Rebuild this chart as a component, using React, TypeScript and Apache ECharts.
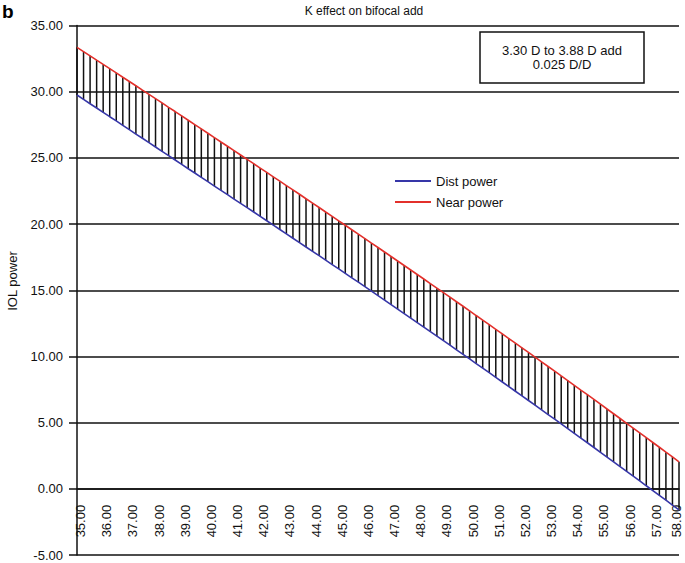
import React, { useEffect, useRef } from "react";
import * as echarts from "echarts";

const kValues = [
  35, 35.25, 35.5, 35.75, 36, 36.25, 36.5, 36.75, 37, 37.25, 37.5, 37.75,
  38, 38.25, 38.5, 38.75, 39, 39.25, 39.5, 39.75, 40, 40.25, 40.5, 40.75,
  41, 41.25, 41.5, 41.75, 42, 42.25, 42.5, 42.75, 43, 43.25, 43.5, 43.75,
  44, 44.25, 44.5, 44.75, 45, 45.25, 45.5, 45.75, 46, 46.25, 46.5, 46.75,
  47, 47.25, 47.5, 47.75, 48, 48.25, 48.5, 48.75, 49, 49.25, 49.5, 49.75,
  50, 50.25, 50.5, 50.75, 51, 51.25, 51.5, 51.75, 52, 52.25, 52.5, 52.75,
  53, 53.25, 53.5, 53.75, 54, 54.25, 54.5, 54.75, 55, 55.25, 55.5, 55.75,
  56, 56.25, 56.5, 56.75, 57, 57.25, 57.5, 57.75, 58,
];

const distPower = [
  29.75, 29.42, 29.09, 28.77, 28.44, 28.11, 27.79, 27.46, 27.13, 26.8, 26.48, 26.15,
  25.82, 25.49, 25.17, 24.84, 24.51, 24.18, 23.86, 23.53, 23.2, 22.87, 22.55, 22.22,
  21.89, 21.56, 21.24, 20.91, 20.58, 20.25, 19.92, 19.59, 19.26, 18.93, 18.6, 18.27,
  17.94, 17.61, 17.28, 16.94, 16.61, 16.28, 15.94, 15.61, 15.27, 14.93, 14.6, 14.26,
  13.92, 13.58, 13.24, 12.9, 12.56, 12.22, 11.87, 11.53, 11.19, 10.85, 10.5, 10.16,
  9.81, 9.46, 9.12, 8.77, 8.42, 8.07, 7.72, 7.37, 7.02, 6.67, 6.32, 5.96,
  5.61, 5.26, 4.9, 4.55, 4.19, 3.83, 3.48, 3.12, 2.76, 2.4, 2.04, 1.68,
  1.32, 0.96, 0.6, 0.23, -0.13, -0.5, -0.86, -1.23, -1.59,
];

const nearPower = [
  33.35, 33.03, 32.71, 32.38, 32.06, 31.74, 31.42, 31.09, 30.77, 30.45, 30.12, 29.8,
  29.47, 29.15, 28.82, 28.5, 28.17, 27.84, 27.51, 27.19, 26.86, 26.53, 26.2, 25.88,
  25.55, 25.22, 24.89, 24.56, 24.23, 23.9, 23.57, 23.24, 22.91, 22.58, 22.25, 21.91,
  21.58, 21.25, 20.91, 20.58, 20.24, 19.91, 19.57, 19.24, 18.9, 18.56, 18.23, 17.89,
  17.55, 17.21, 16.87, 16.53, 16.19, 15.85, 15.5, 15.16, 14.82, 14.48, 14.13, 13.79,
  13.44, 13.09, 12.75, 12.4, 12.05, 11.7, 11.35, 11.0, 10.65, 10.3, 9.95, 9.59,
  9.24, 8.89, 8.53, 8.18, 7.82, 7.46, 7.11, 6.75, 6.39, 6.03, 5.67, 5.31,
  4.95, 4.59, 4.23, 3.86, 3.5, 3.14, 2.77, 2.41, 2.04,
];

const seriesNames = ["Dist power", "Near power"];
const titleText = "K effect on bifocal add";
const boxLines = ["3.30 D to 3.88 D add", "0.025 D/D"];
const yAxisName = "IOL power";
const panelLetter = "b";

const FONT = "'Liberation Sans', Arial, Helvetica, sans-serif";

export default function App() {
  const ref = useRef<HTMLDivElement>(null);

  useEffect(() => {
    if (!ref.current) return;
    const chart = echarts.init(ref.current, null, { renderer: "svg" });

    const distData = kValues.map((k, i) => [k, distPower[i]]);
    const nearData = kValues.map((k, i) => [k, nearPower[i]]);
    const hatchData = kValues.map((k, i) => [k, distPower[i], nearPower[i]]);

    const plotTop = 25.5;
    const plotBottom = 8;
    const plotHeight = 563 - plotTop - plotBottom;
    const zeroOffset = -(plotHeight * 5) / 40;
    const xMax = kValues[kValues.length - 1];

    chart.setOption({
      animation: false,
      backgroundColor: "#ffffff",
      textStyle: { fontFamily: FONT },
      grid: {
        left: 77,
        right: 6,
        top: plotTop,
        bottom: plotBottom,
        containLabel: false,
        outerBoundsMode: "none",
      },
      legend: {
        orient: "vertical",
        left: 390,
        top: 169.5,
        itemWidth: 36,
        itemHeight: 2,
        itemGap: 8,
        icon: "rect",
        data: seriesNames,
        textStyle: { fontSize: 13, color: "#111", fontFamily: FONT },
      },
      xAxis: {
        type: "value",
        min: 35,
        max: 58,
        interval: 1,
        offset: zeroOffset,
        axisLine: { onZero: false, lineStyle: { color: "#111", width: 1.5 } },
        axisTick: { show: false },
        splitLine: { show: false },
        axisLabel: {
          rotate: 90,
          margin: 16,
          fontSize: 13,
          color: "#111",
          fontFamily: FONT,
          formatter: (v: number) =>
            v === xMax ? `{b|${v.toFixed(2)}}` : `{a|${v.toFixed(2)}}`,
          rich: {
            a: { fontSize: 13, color: "#111", fontFamily: FONT, padding: [7, 0, 0, 0] },
            b: { fontSize: 13, color: "#111", fontFamily: FONT, padding: [0, 0, 6, 0] },
          },
        },
      },
      yAxis: {
        type: "value",
        min: -5,
        max: 35,
        interval: 5,
        axisLine: { show: true, lineStyle: { color: "#111", width: 1.5 } },
        axisTick: { show: true, length: 8, lineStyle: { color: "#111", width: 1.5 } },
        splitLine: { show: true, lineStyle: { color: "#111", width: 1.5 } },
        axisLabel: {
          margin: 14,
          fontSize: 13,
          color: "#111",
          fontFamily: FONT,
          formatter: (v: number) => v.toFixed(2),
        },
      },
      series: [
        {
          type: "custom",
          name: "hatch",
          data: hatchData,
          z: 2,
          renderItem: (params: any, api: any) => {
            const p1 = api.coord([api.value(0), api.value(1)]);
            const p2 = api.coord([api.value(0), api.value(2)]);
            return {
              type: "line",
              shape: { x1: p1[0], y1: p1[1], x2: p2[0], y2: p2[1] },
              style: { stroke: "#111", lineWidth: 1.5 },
            };
          },
          silent: true,
        },
        {
          type: "line",
          name: seriesNames[0],
          data: distData,
          showSymbol: false,
          symbol: "none",
          color: "#3636a8",
          lineStyle: { color: "#3636a8", width: 1.6 },
          z: 3,
        },
        {
          type: "line",
          name: seriesNames[1],
          data: nearData,
          showSymbol: false,
          symbol: "none",
          color: "#e3302b",
          lineStyle: { color: "#e3302b", width: 1.6 },
          z: 3,
        },
      ],
      graphic: [
        {
          type: "text",
          left: 2,
          top: 2,
          style: { text: panelLetter, font: `bold 19px ${FONT}`, fill: "#000" },
        },
        {
          type: "text",
          x: 364,
          y: 11,
          style: {
            text: titleText,
            font: `12px ${FONT}`,
            fill: "#111",
            align: "center",
            verticalAlign: "middle",
          },
        },
        {
          type: "text",
          x: 12,
          y: 281,
          rotation: Math.PI / 2,
          style: {
            text: yAxisName,
            font: `13px ${FONT}`,
            fill: "#111",
            align: "center",
            verticalAlign: "middle",
          },
        },
        {
          type: "rect",
          shape: { x: 480, y: 32, width: 164, height: 51 },
          style: { fill: "#fff", stroke: "#111", lineWidth: 1.5 },
          z: 10,
        },
        {
          type: "text",
          x: 562,
          y: 50,
          z: 11,
          style: {
            text: boxLines[0],
            font: `13px ${FONT}`,
            fill: "#111",
            align: "center",
            verticalAlign: "middle",
          },
        },
        {
          type: "text",
          x: 562,
          y: 64,
          z: 11,
          style: {
            text: boxLines[1],
            font: `13px ${FONT}`,
            fill: "#111",
            align: "center",
            verticalAlign: "middle",
          },
        },
      ],
    });

    return () => {
      chart.dispose();
    };
  }, []);

  return (
    <div
      ref={ref}
      style={{ position: "fixed", left: 0, top: 0, width: 685, height: 563 }}
    />
  );
}
